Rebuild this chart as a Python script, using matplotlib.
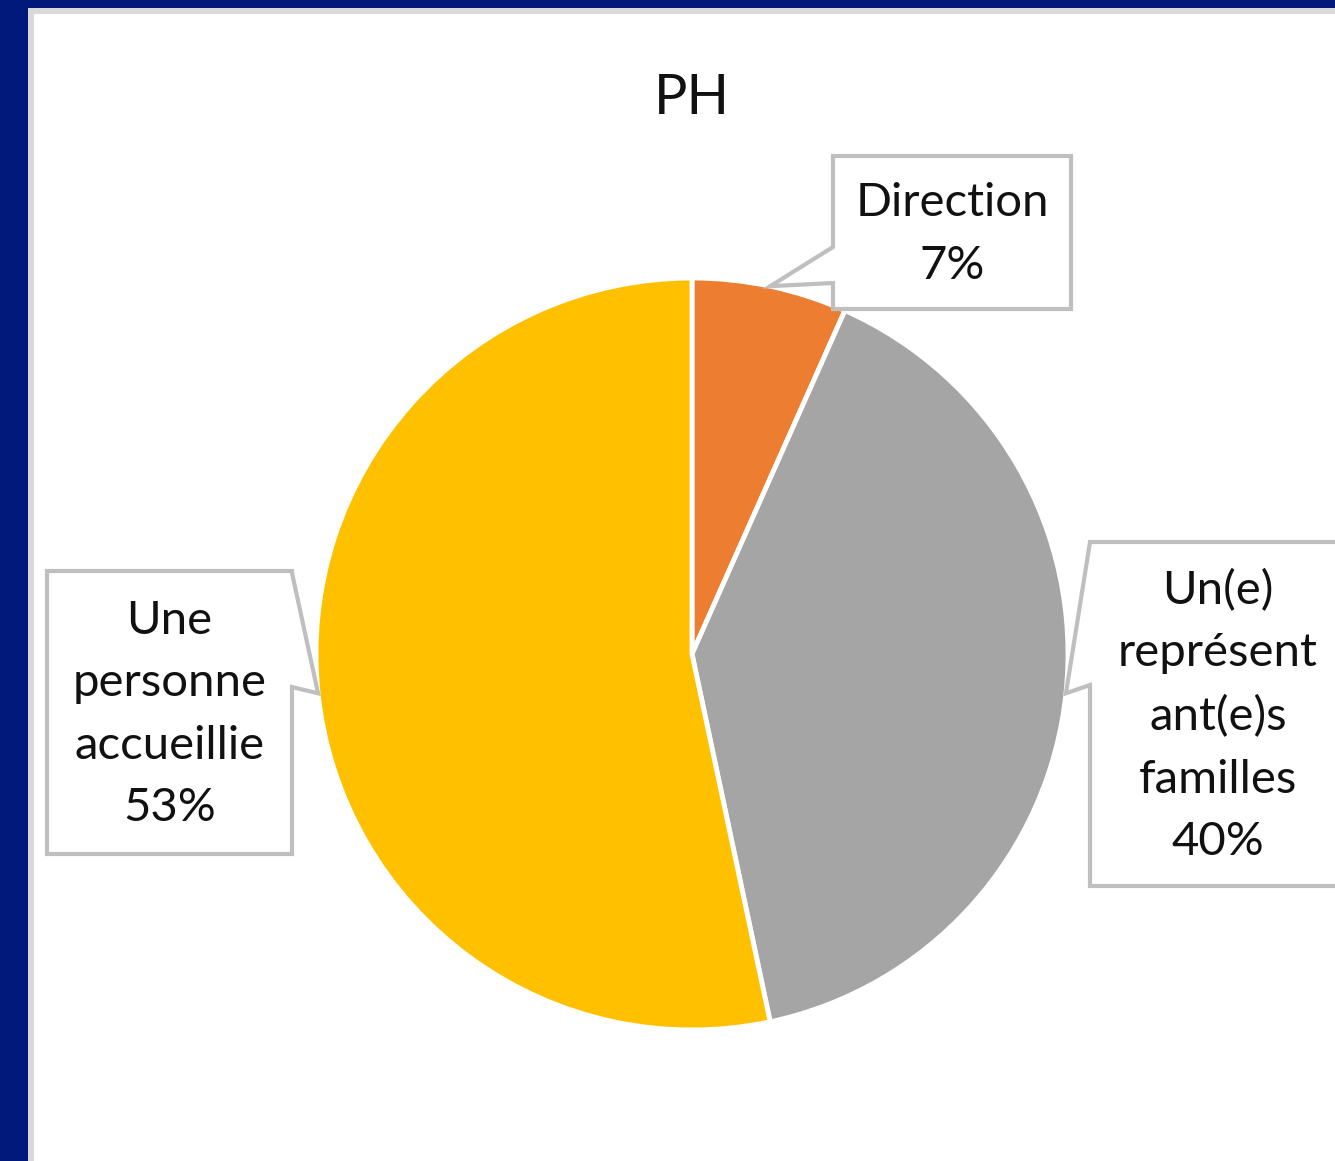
import numpy as np
import matplotlib.pyplot as plt
import matplotlib.patches as patches

# [DATA]
categories = ["Direction", "Un(e) représentant(e)s familles", "Une personne accueillie"]
wrapped_names = ["Direction", "Un(e)\nreprésent\nant(e)s\nfamilles", "Une\npersonne\naccueillie"]
values = [2, 12, 16]  # counts, shown as 7% / 40% / 53%
colors = ["#ED7D31", "#A5A5A5", "#FFC000"]
title = "PH"

# [LAYOUT] all in pixels, y measured from the top of the picture
W, H = 1335, 1161
center = (692, 654)
radius = 376
# callout boxes: (x0, y0, x1, y1), side of pointer, pointer base (y top, y bottom)
boxes = [
    ((833, 156, 1071, 309), "left", (247, 283)),
    ((1090, 542, 1350, 886), "left", (542, 685)),
    ((47, 571, 292, 854), "right", (573, 687)),
]

plt.rcParams["font.family"] = ["Lato", "DejaVu Sans"]


def fy(y):
    return H - y


fig = plt.figure(figsize=(W / 100, H / 100), dpi=100)
fig.patch.set_facecolor("#00197A")
ax = fig.add_axes([0, 0, 1, 1])

# chart area with light border
ax.add_patch(patches.Rectangle((28, 0), W, fy(8), facecolor="#D9D9D9", edgecolor="none", zorder=0))
ax.add_patch(patches.Rectangle((34, 0), W, fy(14), facecolor="white", edgecolor="none", zorder=0))

wedges, _ = ax.pie(
    values,
    colors=colors,
    startangle=90,
    counterclock=False,
    center=(center[0], fy(center[1])),
    radius=radius,
    wedgeprops=dict(edgecolor="white", linewidth=3.5),
    frame=True,
)
ax.set_xlim(0, W)
ax.set_ylim(0, H)
ax.set_aspect("auto")
ax.axis("off")

ax.text(center[0], fy(99), title, ha="center", va="center", fontsize=40, color="#111111")

total = sum(values)
for w, v, name, (box, side, base) in zip(wedges, values, wrapped_names, boxes):
    # pointer tip sits on the pie edge at the middle of the slice
    mid = np.deg2rad((w.theta1 + w.theta2) / 2)
    tip = (center[0] + radius * np.cos(mid), fy(center[1]) + radius * np.sin(mid))
    x0, y0, x1, y1 = box
    if side == "left":
        pts = [(x0, fy(y0)), (x1, fy(y0)), (x1, fy(y1)), (x0, fy(y1)),
               (x0, fy(base[1])), tip, (x0, fy(base[0]))]
    else:
        pts = [(x0, fy(y0)), (x1, fy(y0)), (x1, fy(base[0])), tip,
               (x1, fy(base[1])), (x1, fy(y1)), (x0, fy(y1))]
    ax.add_patch(patches.Polygon(pts, closed=True, facecolor="white",
                                 edgecolor="#BFBFBF", linewidth=3, zorder=3))
    pct = round(100 * v / total)
    tx = (x0 + min(x1, 1346)) / 2
    ax.text(tx, fy((y0 + y1) / 2 + 2), f"{name}\n{pct}%", ha="center", va="center",
            multialignment="center", fontsize=34, linespacing=1.6, color="#111111", zorder=4)

fig.savefig("out.png", dpi=100, facecolor=fig.get_facecolor())
